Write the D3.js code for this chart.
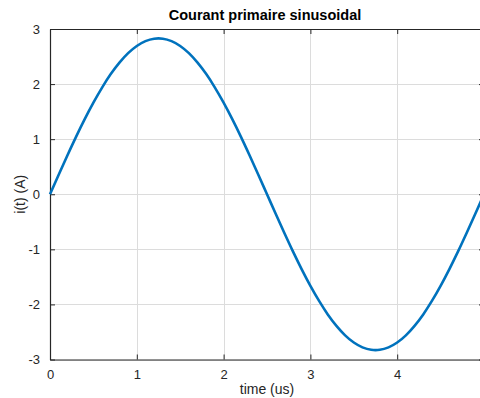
<!DOCTYPE html>
<html><head><meta charset="utf-8">
<script src="https://cdn.jsdelivr.net/npm/d3@7"></script>
<style>body{margin:0;background:#fff;overflow:hidden}svg{display:block}</style>
</head><body>
<svg id="c" width="480" height="398"></svg>
<script>
const timeUs = [0,0.1,0.2,0.3,0.4,0.5,0.6,0.7,0.8,0.9,1.0,1.1,1.2,1.3,1.4,1.5,1.6,1.7,1.8,1.9,2.0,2.1,2.2,2.3,2.4,2.5,2.6,2.7,2.8,2.9,3.0,3.1,3.2,3.3,3.4,3.5,3.6,3.7,3.8,3.9,4.0,4.1,4.2,4.3,4.4,4.5,4.6,4.7,4.8,4.9,5.0];
const current = [0,0.355,0.704,1.042,1.363,1.663,1.937,2.181,2.389,2.561,2.692,2.780,2.824,2.824,2.780,2.692,2.561,2.389,2.181,1.937,1.663,1.363,1.042,0.704,0.355,0,-0.355,-0.704,-1.042,-1.363,-1.663,-1.937,-2.181,-2.389,-2.561,-2.692,-2.780,-2.824,-2.824,-2.780,-2.692,-2.561,-2.389,-2.181,-1.937,-1.663,-1.363,-1.042,-0.704,-0.355,0];
const xTicks = [0,1,2,3,4,5];
const yTicks = [-3,-2,-1,0,1,2,3];
const title = "Courant primaire sinusoidal";
const xLabel = "time (us)";
const yLabel = "i(t) (A)";

const svg = d3.select("#c");
const L = 50, R = 484, T = 29, B = 359.5;
const x = d3.scaleLinear().domain([0,5]).range([L,R]);
const y = d3.scaleLinear().domain([-3,3]).range([B,T]);
const font = "'Liberation Sans', Arial, sans-serif";
const axCol = "#262626";

// grid
const g = svg.append("g");
g.selectAll(".gx").data(xTicks).join("line")
  .attr("x1", d=>Math.round(x(d))+0.5).attr("x2", d=>Math.round(x(d))+0.5)
  .attr("y1", T).attr("y2", B).attr("stroke", "#dcdcdc").attr("stroke-width", 1);
g.selectAll(".gy").data(yTicks).join("line")
  .attr("y1", d=>Math.round(y(d))+0.5).attr("y2", d=>Math.round(y(d))+0.5)
  .attr("x1", L).attr("x2", R).attr("stroke", "#dcdcdc").attr("stroke-width", 1);

// axes
const xAxis = svg.append("g").attr("transform", `translate(0,${B})`)
  .call(d3.axisBottom(x).tickValues(xTicks.filter(d=>d<5)).tickFormat(d3.format("d")).tickSizeInner(-5).tickSizeOuter(0).tickPadding(10));
const xAxisTop = svg.append("g").attr("transform", `translate(0,${T})`)
  .call(d3.axisTop(x).tickValues(xTicks).tickFormat("").tickSizeInner(-5).tickSizeOuter(0));
const yAxis = svg.append("g").attr("transform", `translate(${L},0)`)
  .call(d3.axisLeft(y).tickValues(yTicks).tickFormat(d3.format("d")).tickSizeInner(-5).tickSizeOuter(0).tickPadding(10));
const yAxisR = svg.append("g").attr("transform", `translate(${R},0)`)
  .call(d3.axisRight(y).tickValues(yTicks).tickFormat("").tickSizeInner(-5).tickSizeOuter(0));
[xAxis,xAxisTop,yAxis,yAxisR].forEach(a=>{
  a.selectAll("path").attr("stroke", axCol).attr("stroke-width", 1.2);
  a.selectAll("line").attr("stroke", axCol);
  a.selectAll("text").attr("fill", axCol).style("font-family", font).style("font-size", "13px");
});
xAxis.selectAll("text").attr("dy", "0.71em");
yAxis.selectAll("text").text(d => d < 0 ? "-" + Math.abs(d) : d);

// line
const data = timeUs.map((t,i)=>({t, v: current[i]}));
svg.append("path").datum(data)
  .attr("fill","none").attr("stroke","#0072BD").attr("stroke-width",2.6)
  .attr("d", d3.line().x(d=>x(d.t)).y(d=>y(d.v)).curve(d3.curveCatmullRom));

// labels
svg.append("text").attr("x", 265).attr("y", 20).attr("text-anchor","middle")
  .style("font-family", font).style("font-size","14.5px").style("font-weight","bold").attr("fill","#000").text(title);
svg.append("text").attr("x", (L+R)/2).attr("y", 394).attr("text-anchor","middle")
  .style("font-family", font).style("font-size","14px").attr("fill", axCol).text(xLabel);
svg.append("text").attr("transform", `translate(25,${y(0)}) rotate(-90)`).attr("text-anchor","middle")
  .style("font-family", font).style("font-size","14px").attr("fill", axCol).text(yLabel);
</script>
</body></html>
